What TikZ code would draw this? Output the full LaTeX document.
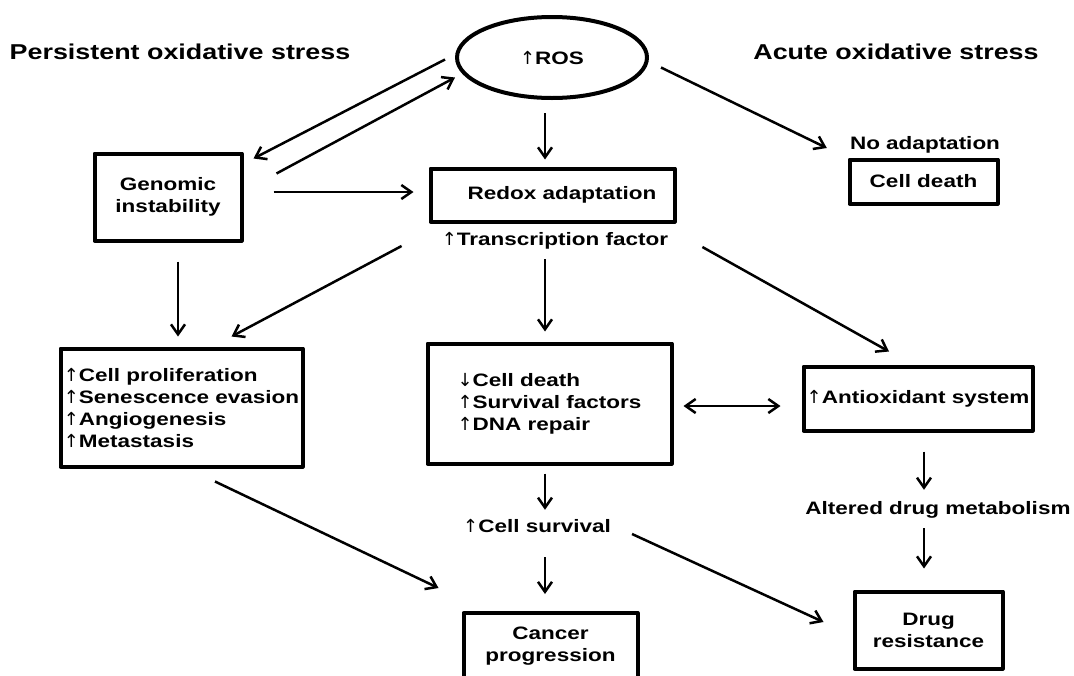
\documentclass[tikz,border=0pt]{standalone}
\usepackage{fontspec}
\setmainfont{Liberation Sans}[FakeStretch=1.25]
\newfontfamily\arrfont{DejaVu Sans}
\usetikzlibrary{arrows.meta,shapes.geometric}
\newcommand{\uarr}{{\arrfont\mdseries ↑}}
\newcommand{\darr}{{\arrfont\mdseries ↓}}
\begin{document}
\begin{tikzpicture}[x=1pt,y=-1pt,>={Straight Barb[length=10pt,width=14pt]}, line join=round,
		box/.style={draw,line width=4pt,outer sep=0pt,inner sep=0pt,align=center,font=\fontsize{18}{22}\selectfont\bfseries},
		lbl/.style={inner sep=2pt,text height=13pt,text depth=4pt,font=\fontsize{18}{22}\selectfont\bfseries},
		head/.style={font=\fontsize{21.5}{26}\selectfont\bfseries},
		arr/.style={->,line width=2.5pt}]
			\useasboundingbox (0,0) rectangle (1074,675);
			\clip (0,0) rectangle (1074,675);
			\node[head] (persist) at (180,52) {Persistent oxidative stress};
			\node[head] (acute) at (896,52) {Acute oxidative stress};
			\node[box,ellipse,minimum width=190,minimum height=81] (ros) at (552,57.5) {\uarr ROS};
			\node[box,minimum width=147,minimum height=87] (geno) at (168,197) {Genomic\\instability};
			\node[box,minimum width=244,minimum height=53] (redox) at (552.5,195) {\hspace*{19pt}Redox adaptation};
			\node[lbl] (tf) at (555,241) {\uarr Transcription factor};
			\node[lbl] (noad) at (925,145) {No adaptation};
			\node[box,minimum width=148,minimum height=44] (death) at (923.5,181.5) {Cell death};
			\node[box,align=left,minimum width=242,minimum height=118] (prolif) at (181.5,407.5) {\uarr Cell proliferation\\\uarr Senescence evasion\\\uarr Angiogenesis\\\uarr Metastasis};
			\node[box,align=left,minimum width=244,minimum height=120] (mid) at (549.5,403.5) {\darr Cell death\\\uarr Survival factors\\\uarr DNA repair};
			\node[box,minimum width=229,minimum height=64] (antiox) at (918,398.5) {\uarr Antioxidant system};
			\node[lbl] (surv) at (537,528) {\uarr Cell survival};
			\node[lbl] (altered) at (938,510) {Altered drug metabolism};
			\node[box,anchor=north,minimum width=174,inner ysep=14pt] (cancer) at (550.5,613) {Cancer\\progression};
			\node[box,minimum width=148,minimum height=77] (drug) at (928.5,630) {Drug\\resistance};
			\draw[arr] ([shift={(-12,2)}]ros.west) -- ([shift={(12,5)}]geno.north east);
			\draw[arr] ([shift={(35,20)}]geno.north east) -- ([shift={(-2,20)}]ros.west);
			\draw[arr] ([shift={(32,-5)}]geno.east) -- ([shift={(-17,-3)}]redox.west);
			\draw[arr] ([shift={(-7,15)}]ros.south) -- ([shift={(-7.5,-9)}]redox.north);
			\draw[arr] ([shift={(14,10)}]ros.east) -- ([shift={(-21,3)}]noad.west);
			\draw[arr] ([shift={(10,21)}]geno.south) -- ([shift={(-3.5,-12)}]prolif.north);
			\draw[arr] ([shift={(-38,5)}]tf.west) -- ([shift={(-71,-12)}]prolif.north east);
			\draw[arr] ([shift={(-10,7.5)}]tf.south) -- ([shift={(-4.5,-12)}]mid.north);
			\draw[arr] ([shift={(32,6)}]tf.east) -- ([shift={(-29,-15)}]antiox.north);
			\draw[arr,<->] ([shift={(12,2.5)}]mid.east) -- ([shift={(-23,7.5)}]antiox.west);
			\draw[arr] ([shift={(33.5,15)}]prolif.south) -- ([shift={(-25,-25)}]cancer.north west);
			\draw[arr] ([shift={(-4.5,10)}]mid.south) -- ([shift={(8,-7.5)}]surv.north);
			\draw[arr] ([shift={(8,18.5)}]surv.south) -- ([shift={(-5.5,-19)}]cancer.north);
			\draw[arr] ([shift={(19,6)}]surv.east) -- ([shift={(-31,-8)}]drug.west);
			\draw[arr] ([shift={(6,21)}]antiox.south) -- ([shift={(-14,-9.5)}]altered.north);
			\draw[arr] ([shift={(-14,7.5)}]altered.south) -- ([shift={(-4.5,-23)}]drug.north);
	\end{tikzpicture}
\end{document}
